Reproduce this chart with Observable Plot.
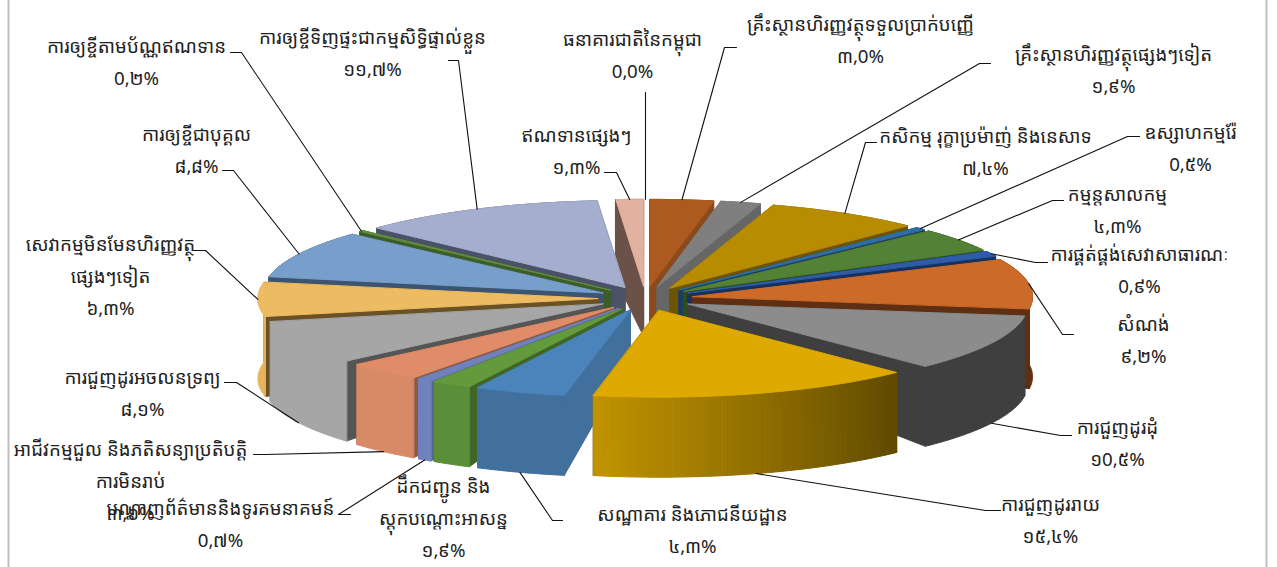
<!DOCTYPE html>
<html><head><meta charset="utf-8">
<script src="https://cdn.jsdelivr.net/npm/d3@7"></script>
<script src="https://cdn.jsdelivr.net/npm/@observablehq/plot@0.6"></script>
<style>html,body{margin:0;padding:0;background:#fff;overflow:hidden}</style>
</head><body><div id="chart"></div>
<script>
// ---- data
const names = ["ធនាគារជាតិនៃកម្ពុជា","គ្រឹះស្ថានហិរញ្ញវត្ថុទទួលប្រាក់បញ្ញើ","គ្រឹះស្ថានហិរញ្ញវត្ថុផ្សេងៗទៀត","កសិកម្ម រុក្ខាប្រម៉ាញ់ និងនេសាទ","ឧស្សាហកម្មរ៉ែ","កម្មន្តសាលកម្ម","ការផ្គត់ផ្គង់សេវាសាធារណៈ","សំណង់","ការជួញដូរដុំ","ការជួញដូររាយ","សណ្ឋាគារ និងភោជនីយដ្ឋាន","ដឹកជញ្ជូន និង\nស្តុកបណ្តោះអាសន្ន","បណ្តាញព័ត៌មាននិងទូរគមនាគមន៍","អាជីវកម្មជួល និងភតិសន្យាប្រតិបត្តិ\nការមិនរាប់","ការជួញដូរអចលនទ្រព្យ","សេវាកម្មមិនមែនហិរញ្ញវត្ថុ\nផ្សេងៗទៀត","ការឲ្យខ្ចីជាបុគ្គល","ការឲ្យខ្ចីតាមប័ណ្ណឥណទាន","ការឲ្យខ្ចីទិញផ្ទះជាកម្មសិទ្ធិផ្ទាល់ខ្លួន","ឥណទានផ្សេងៗ"];
const shares = [0.0,3.0,1.9,7.4,0.5,4.3,0.9,9.2,10.5,15.4,4.3,1.9,0.7,3.6,8.1,6.3,8.8,0.2,11.7,1.3];
const shareLabels = ["0,0%","៣,0%","១,៩%","៧,៤%","0,៥%","៤,៣%","0,៩%","៩,២%","១0,៥%","១៥,៤%","៤,៣%","១,៩%","0,៧%","៣,៦%","៨,១%","៦,៣%","៨,៨%","0,២%","១១,៧%","១,៣%"];

// ---- styles: top face, radial wall, outer wall start, outer wall end
const palette = [
 ["#ffffff","#ffffff","#ffffff","#ffffff"],
 ["#ad5a20","#8a4a1c","#8a4a1c","#8a4a1c"],
 ["#7f7f7f","#666666","#666666","#666666"],
 ["#b88c00","#6e5400","#6e5400","#6e5400"],
 ["#2f6ea5","#1c3f5f","#1c3f5f","#1c3f5f"],
 ["#538135","#2f4d1e","#2f4d1e","#2f4d1e"],
 ["#2e5ca8","#16305f","#16305f","#16305f"],
 ["#cc6a2a","#5e2f12","#5e2f12","#5e2f12"],
 ["#8c8c8c","#3f3f3f","#3f3f3f","#3f3f3f"],
 ["#dea900","#6b5200","#5f4a00","#c29400"],
 ["#4a84ba","#41709c","#41709c","#41709c"],
 ["#639b3c","#3f6626","#5b8e38","#5b8e38"],
 ["#7081bd","#55659a","#7081bd","#7081bd"],
 ["#e08c68","#8a5a45","#d88a67","#d88a67"],
 ["#a6a6a6","#555555","#a6a6a6","#a6a6a6"],
 ["#edbb62","#6b5126","#e8b35a","#e8b35a"],
 ["#789fcb","#3c5470","#3c5470","#3c5470"],
 ["#5f8f3f","#3e5c2a","#3e5c2a","#3e5c2a"],
 ["#a5aece","#4b5268","#4b5268","#4b5268"],
 ["#e2b1a0","#6b5248","#6b5248","#6b5248"]
];
// label layout: centre x, centre y of first line, leader elbow [x0,y0,x1,y1] or null
const layout = [
 {x:632,y:40,lead:[645,92,645,92]},
 {x:860,y:25,lead:[736,47,724,47]},
 {x:1113,y:55,lead:[990,63,979,63]},
 {x:985,y:137,lead:[876,142,865,142]},
 {x:1190,y:133,lead:[1139,136,1127,136]},
 {x:1117,y:195,lead:[1063,200,1052,200]},
 {x:1139,y:255,lead:[1047,262,1035,262]},
 {x:1143,y:325,lead:[1073,334,1062,334]},
 {x:1117,y:428,lead:[1071,435,1060,435]},
 {x:1050,y:505,lead:[1000,510,985,510]},
 {x:692,y:515,lead:[562,520,552,520]},
 {x:443,y:487,lead:null},
 {x:220,y:509,lead:[350,514,338,514]},
 {x:130,y:450,lead:[253,454,265,454]},
 {x:142,y:378,lead:[224,382,236,382]},
 {x:110,y:245,lead:[192,250,205,250]},
 {x:196,y:135,lead:[222,170,233,170]},
 {x:136,y:47,lead:[230,52,241,52]},
 {x:372,y:38,lead:[448,60,458,60]},
 {x:576,y:136,lead:[604,172,616,172]}
];
const pie = {cx:645, cy:298, a:340, b:87, explode:0.14, depth:80, apexDepth:50};

// ---- geometry from shares
const total = d3.sum(shares);
const rad = Math.PI/180;
let cum = 0;
const slices = shares.map((v,i)=>{ const s=cum/total*360; cum+=v; const e=cum/total*360; return {i,s,e,m:(s+e)/2}; });
const pt = (th,r,e,mid)=>({x:pie.cx+pie.a*(r*Math.sin(th*rad)+e*Math.sin(mid*rad)), y:pie.cy-pie.b*(r*Math.cos(th*rad)+e*Math.cos(mid*rad))});
const faces=[]; let fid=0;
const add=(pts,fill)=>{ const id=fid++; pts.forEach(p=>faces.push({id,x:p.x,y:p.y,fill})); };
const down=(p,d)=>({x:p.x,y:p.y+d});
const order=slices.filter(s=>s.e>s.s).sort((p,q)=>Math.cos(q.m*rad)-Math.cos(p.m*rad));
for(const s of order){
  const c=palette[s.i], e=pie.explode;
  const ap=pt(s.m,0,e,s.m);
  const p0=pt(s.s,1,e,s.m), p1=pt(s.e,1,e,s.m);
  const apB=down(ap,pie.apexDepth);
  add([ap,p0,down(p0,pie.depth),apB],c[1]);
  add([ap,p1,down(p1,pie.depth),apB],c[1]);
  const n=Math.max(2,Math.ceil((s.e-s.s)*2));
  const ths=d3.range(n+1).map(k=>s.s+(s.e-s.s)*k/n);
  const rim=ths.map(t=>pt(t,1,e,s.m));
  if(c[2]===c[3]){
    add([...rim,...rim.map(p=>down(p,pie.depth)).reverse()],c[2]);
  } else {
    const mix=d3.interpolateRgb(c[2],c[3]);
    for(let k=0;k<n;k++){
      add([rim[k],rim[k+1],down(rim[k+1],pie.depth),down(rim[k],pie.depth)],d3.rgb(mix(k/n)).formatHex());
    }
  }
  add([ap,...rim],c[0]);
}
// leaders end on the rim at the slice's mid-angle (on the wall bottom for front slices)
const leaders=[];
slices.forEach((s,i)=>{ const L=layout[i].lead; if(!L) return;
  const r=pt(s.m,1,pie.explode,s.m);
  const end=Math.cos(s.m*rad)<-0.05?down(r,pie.depth):r;
  [{x:L[0],y:L[1]},{x:L[2],y:L[3]},end].forEach(p=>leaders.push({i,x:p.x,y:p.y}));
});
const texts=names.map((n,i)=>({x:layout[i].x,y:layout[i].y,t:n+"\n"+shareLabels[i]}));
const font='"Khmer OS","Khmer OS System","Noto Sans Khmer","Noto Sans","DejaVu Sans",sans-serif';

const plot=Plot.plot({
  width:1277,height:567,margin:0,
  x:{domain:[0,1277],range:[0,1277],axis:null},
  y:{domain:[0,567],range:[0,567],axis:null},
  color:{type:"identity"},
  style:{background:"#fff",fontFamily:font},
  marks:[
    Plot.ruleX([8,1266],{stroke:"#bfbfbf",strokeWidth:2}),
    Plot.line(faces,{x:"x",y:"y",z:"id",fill:"fill",stroke:"fill",strokeWidth:1,curve:"linear-closed"}),
    Plot.line(leaders,{x:"x",y:"y",z:"i",stroke:"#111",strokeWidth:1.1,curve:"linear"}),
    Plot.text(texts,{x:"x",y:"y",text:"t",fontSize:18.7,fill:"#222",lineHeight:1.71,lineAnchor:"top",dy:-17.5,textAnchor:"middle"})
  ]
});
document.getElementById("chart").appendChild(plot);
</script></body></html>
